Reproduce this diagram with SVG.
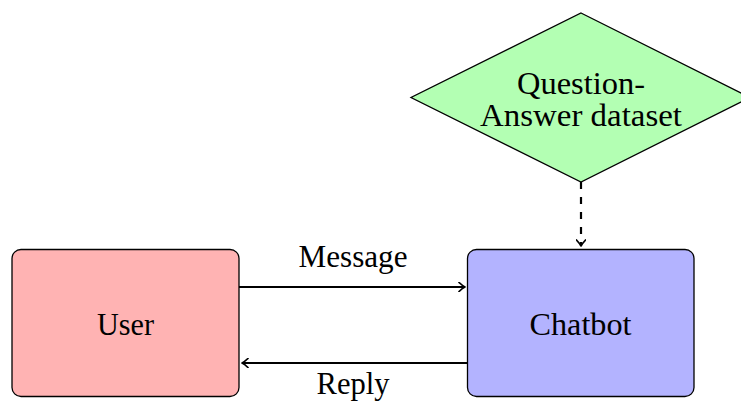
<svg xmlns="http://www.w3.org/2000/svg" width="741" height="402" viewBox="0 0 741 402">
  <style>
    .lbl { font-family: "Liberation Serif", "Times New Roman", serif; font-size: 31px; fill: #000; text-anchor: middle; }
    .box { stroke: #000; stroke-width: 1.3; }
    .edge { fill: none; stroke: #000; stroke-width: 2.2; }
  </style>
  <defs>
    <marker id="tip" viewBox="-6 -5 8 10" markerWidth="8" markerHeight="10" refX="1" refY="0" orient="auto" markerUnits="userSpaceOnUse">
      <path d="M-5,-4.5 Q-1.5,-1.2 1,0 Q-1.5,1.2 -5,4.5" fill="none" stroke="#000" stroke-width="1.7" stroke-linecap="round" stroke-linejoin="round"/>
    </marker>
  </defs>

  <g id="dataset">
    <polygon class="box" points="581,13 750,97.5 581,182 411,97.5" fill="#B3FFB3"/>
    <text class="lbl" x="581" y="94" textLength="128" lengthAdjust="spacingAndGlyphs">Question-</text>
    <text class="lbl" x="581" y="126" textLength="202" lengthAdjust="spacingAndGlyphs">Answer dataset</text>
  </g>

  <g id="user">
    <rect class="box" x="12" y="249.5" width="227" height="147" rx="9" fill="#FFB3B3"/>
    <text class="lbl" x="125.5" y="335" textLength="57" lengthAdjust="spacingAndGlyphs">User</text>
  </g>

  <g id="chatbot">
    <rect class="box" x="467.5" y="249.5" width="226.5" height="147" rx="9" fill="#B3B3FF"/>
    <text class="lbl" x="580.5" y="335" textLength="102" lengthAdjust="spacingAndGlyphs">Chatbot</text>
  </g>

  <g id="connectors">
    <path class="edge" d="M581,182 L581,246" stroke-dasharray="7 8" marker-end="url(#tip)"/>
    <path class="edge" d="M239,287 L465,287" marker-end="url(#tip)"/>
    <text class="lbl" x="353" y="267" textLength="109" lengthAdjust="spacingAndGlyphs">Message</text>
    <path class="edge" d="M467.5,363 L242,363" marker-end="url(#tip)"/>
    <text class="lbl" x="353" y="394" textLength="73" lengthAdjust="spacingAndGlyphs">Reply</text>
  </g>
</svg>
